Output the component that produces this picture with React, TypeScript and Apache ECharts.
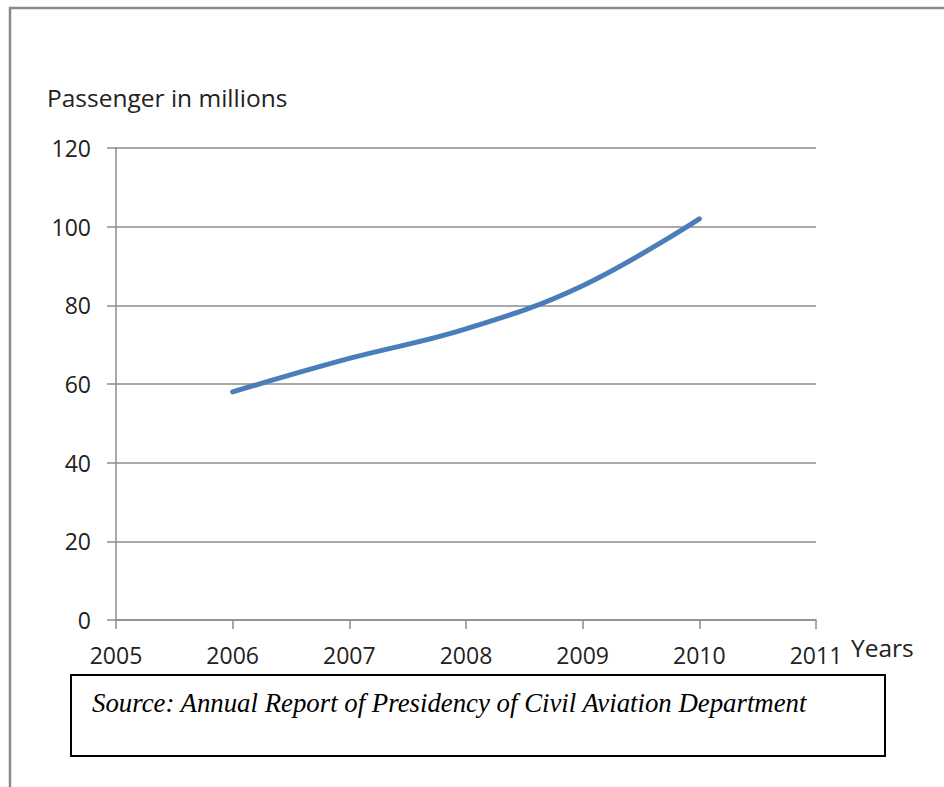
import React, { useEffect, useRef } from "react";
import * as echarts from "echarts";

const years = [2006, 2007, 2008, 2009, 2010];
const passengers = [58, 66.5, 74, 85, 102];
const yTicks = [0, 20, 40, 60, 80, 100, 120];
const xTicks = [2005, 2006, 2007, 2008, 2009, 2010, 2011];
const yTitle = "Passenger in millions";
const xTitle = "Years";
const sourceText = "Source: Annual Report of Presidency of Civil Aviation Department";

const FONT = "'Open Sans', Lato, sans-serif";

export default function App() {
  const ref = useRef<HTMLDivElement>(null);
  useEffect(() => {
    if (!ref.current) return;
    const chart = echarts.init(ref.current, null, { renderer: "svg" });
    chart.setOption({
      animation: false,
      backgroundColor: "#ffffff",
      grid: { left: 116, top: 148, width: 700, height: 472, containLabel: false },
      xAxis: {
        type: "value",
        min: xTicks[0],
        max: xTicks[xTicks.length - 1],
        interval: 1,
        axisLine: { show: true, lineStyle: { color: "#8c8c8c", width: 1.5 } },
        axisTick: { show: true, length: 9, lineStyle: { color: "#8c8c8c", width: 1.5 } },
        splitLine: { show: false },
        axisLabel: {
          margin: 23,
          color: "#222",
          fontSize: 23,
          fontFamily: FONT,
          formatter: (v: number) => String(v),
        },
      },
      yAxis: {
        type: "value",
        min: yTicks[0],
        max: yTicks[yTicks.length - 1],
        interval: 20,
        axisLine: { show: true, lineStyle: { color: "#8c8c8c", width: 1.5 } },
        axisTick: { show: true, length: 9, lineStyle: { color: "#8c8c8c", width: 1.5 } },
        splitLine: { show: true, lineStyle: { color: "#8c8c8c", width: 1.5 } },
        axisLabel: {
          margin: 25,
          color: "#222",
          fontSize: 23,
          fontFamily: FONT,
        },
      },
      series: [
        {
          type: "line",
          data: years.map((y, i) => [y, passengers[i]]),
          smooth: 0.4,
          showSymbol: false,
          lineStyle: { color: "#4a7ebb", width: 5, cap: "round" },
        },
      ],
      graphic: [
        {
          type: "rect",
          shape: { x: 10, y: 8, width: 960, height: 800 },
          style: { fill: "none", stroke: "#8a8a8a", lineWidth: 2.5 },
          silent: true,
        },
        {
          type: "text",
          x: 47,
          y: 97,
          style: { text: yTitle, fontSize: 24.5, fontFamily: FONT, fill: "#222", verticalAlign: "middle" },
        },
        {
          type: "text",
          x: 851,
          y: 647,
          style: { text: xTitle, fontSize: 24.5, fontFamily: FONT, fill: "#222", verticalAlign: "middle" },
        },
        {
          type: "rect",
          shape: { x: 71, y: 675, width: 814, height: 81 },
          style: { fill: "#fff", stroke: "#000", lineWidth: 2 },
        },
        {
          type: "text",
          x: 92,
          y: 703,
          style: {
            text: sourceText,
            fontSize: 26.8,
            fontStyle: "italic",
            fontFamily: "'Liberation Serif', 'Times New Roman', serif",
            fill: "#000",
            verticalAlign: "middle",
          },
        },
      ],
    });
    return () => chart.dispose();
  }, []);
  return (
    <div
      ref={ref}
      style={{ position: "absolute", left: 0, top: 0, width: 944, height: 787 }}
    />
  );
}
